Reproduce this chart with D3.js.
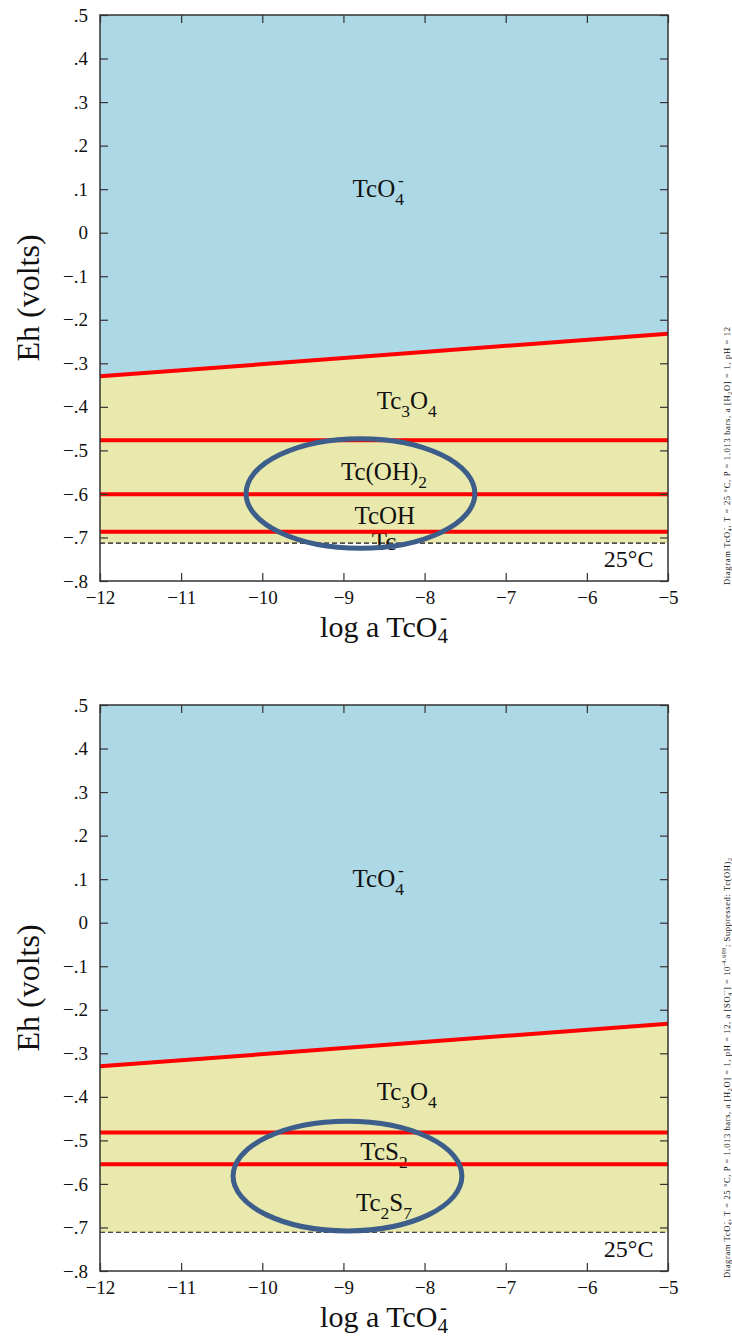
<!DOCTYPE html>
<html>
<head>
<meta charset="utf-8">
<script src="https://cdn.jsdelivr.net/npm/d3@7"></script>
<style>
  body { margin: 0; background: #fff; }
  svg text { font-family: "Liberation Serif", "Times New Roman", serif; fill: #111; }
</style>
</head>
<body>
<svg id="chart" width="732" height="1338"></svg>
<script>
// axis ranges and ticks
var xDomain = [-12, -5];
var yDomain = [-0.8, 0.5];
var xTicks = [-12, -11, -10, -9, -8, -7, -6, -5];
var yTicks = [0.5, 0.4, 0.3, 0.2, 0.1, 0, -0.1, -0.2, -0.3, -0.4, -0.5, -0.6, -0.7, -0.8];

// TcO4- / Tc3O4 boundary (log a, Eh), same in both diagrams
var oxideBoundary = [[-12, -0.330], [-5, -0.232]];

// horizontal boundaries (Eh) and water limit
var topLines = [-0.477, -0.601, -0.687];
var bottomLines = [-0.482, -0.555];
var topWater = -0.713;
var bottomWater = -0.711;

// field labels: log a, Eh of baseline, text parts
var topLabels = [
  {x: -8.57, y: 0.082, parts: [["TcO"], ["4", "sub"], ["-", "sup", -6]]},
  {x: -8.22, y: -0.405, parts: [["Tc"], ["3", "sub"], ["O"], ["4", "sub"]]},
  {x: -8.50, y: -0.568, parts: [["Tc(OH)"], ["2", "sub"]]},
  {x: -8.49, y: -0.670, parts: [["TcOH"]]},
  {x: -8.50, y: -0.729, parts: [["Tc"]]}
];
var bottomLabels = [
  {x: -8.57, y: 0.082, parts: [["TcO"], ["4", "sub"], ["-", "sup", -6]]},
  {x: -8.22, y: -0.408, parts: [["Tc"], ["3", "sub"], ["O"], ["4", "sub"]]},
  {x: -8.50, y: -0.545, parts: [["TcS"], ["2", "sub"]]},
  {x: -8.50, y: -0.662, parts: [["Tc"], ["2", "sub"], ["S"], ["7", "sub"]]}
];

// highlight ellipses: centre (log a, Eh), radii (log units, volts)
var topEllipse = {cx: -8.79, cy: -0.599, rx: 1.41, ry: 0.126};
var bottomEllipse = {cx: -8.95, cy: -0.582, rx: 1.41, ry: 0.126};

var tempLabel = "25°C";
var tempPos = [-5.18, -0.767];

var topNote = [["Diagram TcO"], ["4", "sub"], ["-", "sup", -2.5], [", T =  25 °C, P = 1.013 bars, a [H"], ["2", "sub"], ["O] = 1, pH = 12"]];
var bottomNote = [["Diagram TcO"], ["4", "sub"], ["-", "sup", -2.5], [", T =  25 °C, P = 1.013 bars, a [H"], ["2", "sub"], ["O] = 1, pH = 12, a [SO"], ["4", "sub"], ["--", "sup", -3], ["] = 10"], ["-4.699", "sup"], ["; Suppressed: Tc(OH)"], ["2", "sub"]];

var svg = d3.select("#chart");
var left = 100, right = 668, h = 566;

var x = d3.scaleLinear().domain(xDomain).range([left, right]);

function rich(text, parts, size, subShift) {
  var off = 0;
  subShift = subShift || 0.32;
  parts.forEach(function(p) {
    var kind = p[1];
    var target = kind === "sub" ? size * subShift : kind === "sup" ? -size * 0.42 : 0;
    var t = text.append("tspan")
        .text(p[0])
        .attr("dy", target - off)
        .style("font-size", (kind ? size * 0.7 : size) + "px");
    if (p[2]) t.attr("dx", p[2]);
    off = target;
  });
}

function fmt(d) {
  if (d === 0) return "0";
  return (d < 0 ? "\u2212" : "") + String(Math.abs(d)).replace(/^0/, "");
}

function panel(top, lines, water, labels, ell, note, noteY, noteLen) {
  var y = d3.scaleLinear().domain(yDomain).range([h, 0]);
  var g = svg.append("g").attr("transform", "translate(0," + top + ")");
  var b = oxideBoundary;

  g.append("polygon")
      .attr("points", [[x(b[0][0]), y(0.5)], [x(b[1][0]), y(0.5)], [x(b[1][0]), y(b[1][1])], [x(b[0][0]), y(b[0][1])]].join(" "))
      .attr("fill", "#add8e6");
  g.append("polygon")
      .attr("points", [[x(b[0][0]), y(b[0][1])], [x(b[1][0]), y(b[1][1])], [x(xDomain[1]), y(water)], [x(xDomain[0]), y(water)]].join(" "))
      .attr("fill", "#e9e9ad");

  g.append("line")
      .attr("x1", x(xDomain[0])).attr("x2", x(xDomain[1]))
      .attr("y1", y(water)).attr("y2", y(water))
      .attr("stroke", "#111").attr("stroke-width", 1.1).attr("stroke-dasharray", "5,3");

  labels.forEach(function(l) {
    var t = g.append("text")
        .attr("x", x(l.x)).attr("y", y(l.y))
        .attr("text-anchor", "middle");
    rich(t, l.parts, 25);
  });

  g.append("line")
      .attr("x1", x(b[0][0])).attr("y1", y(b[0][1]))
      .attr("x2", x(b[1][0])).attr("y2", y(b[1][1]))
      .attr("stroke", "#ff0000").attr("stroke-width", 4);

  g.selectAll(".hl")
      .data(lines)
      .enter().append("line")
      .attr("x1", x(xDomain[0])).attr("x2", x(xDomain[1]))
      .attr("y1", function(d) { return y(d); })
      .attr("y2", function(d) { return y(d); })
      .attr("stroke", "#ff0000").attr("stroke-width", 4);

  g.append("ellipse")
      .attr("cx", x(ell.cx)).attr("cy", y(ell.cy))
      .attr("rx", x(ell.cx + ell.rx) - x(ell.cx))
      .attr("ry", y(ell.cy - ell.ry) - y(ell.cy))
      .attr("fill", "none").attr("stroke", "#3d5d8b").attr("stroke-width", 5);

  g.append("text")
      .attr("x", x(tempPos[0])).attr("y", y(tempPos[1]))
      .attr("text-anchor", "end")
      .style("font-size", "24px")
      .text(tempLabel);

  // axes with inward ticks on all sides
  g.append("g").attr("transform", "translate(0," + h + ")")
      .call(d3.axisBottom(x).tickValues(xTicks).tickSize(-8).tickPadding(10).tickFormat(fmt))
      .call(styleAxis);
  g.append("g")
      .call(d3.axisTop(x).tickValues(xTicks).tickSize(-8).tickFormat(""))
      .call(styleAxis);
  g.append("g").attr("transform", "translate(" + left + ",0)")
      .call(d3.axisLeft(y).tickValues(yTicks).tickSize(-8).tickPadding(12).tickFormat(fmt))
      .call(styleAxis);
  g.append("g").attr("transform", "translate(" + right + ",0)")
      .call(d3.axisRight(y).tickValues(yTicks).tickSize(-8).tickFormat(""))
      .call(styleAxis);

  g.append("rect")
      .attr("x", left).attr("y", 0)
      .attr("width", right - left).attr("height", h)
      .attr("fill", "none").attr("stroke", "#333").attr("stroke-width", 1.5);

  var yt = g.append("text")
      .attr("transform", "translate(39,283) rotate(-90)")
      .attr("text-anchor", "middle");
  rich(yt, [["Eh (volts)"]], 32);

  var xt = g.append("text")
      .attr("x", (left + right) / 2).attr("y", h + 56)
      .attr("text-anchor", "middle");
  rich(xt, [["log a TcO"], ["4", "sub"], ["-", "sup", -8]], 30, 0.2);

  var nt = g.append("text")
      .attr("transform", "translate(729.5," + noteY + ") rotate(-90)")
      .attr("text-anchor", "start")
      .attr("textLength", noteLen)
      .attr("lengthAdjust", "spacing");
  rich(nt, note, 8.5);
}

function styleAxis(a) {
  a.attr("font-family", "'Liberation Serif', serif");
  a.select(".domain").remove();
  a.selectAll(".tick line").attr("stroke", "#333").attr("stroke-width", 1.2);
  a.selectAll(".tick text")
      .style("font-family", "'Liberation Serif', serif")
      .style("font-size", "19px")
      .attr("fill", "#111");
}

panel(15, topLines, topWater, topLabels, topEllipse, topNote, 570, 258);
panel(705, bottomLines, bottomWater, bottomLabels, bottomEllipse, bottomNote, 573, 420);
</script>
</body>
</html>
